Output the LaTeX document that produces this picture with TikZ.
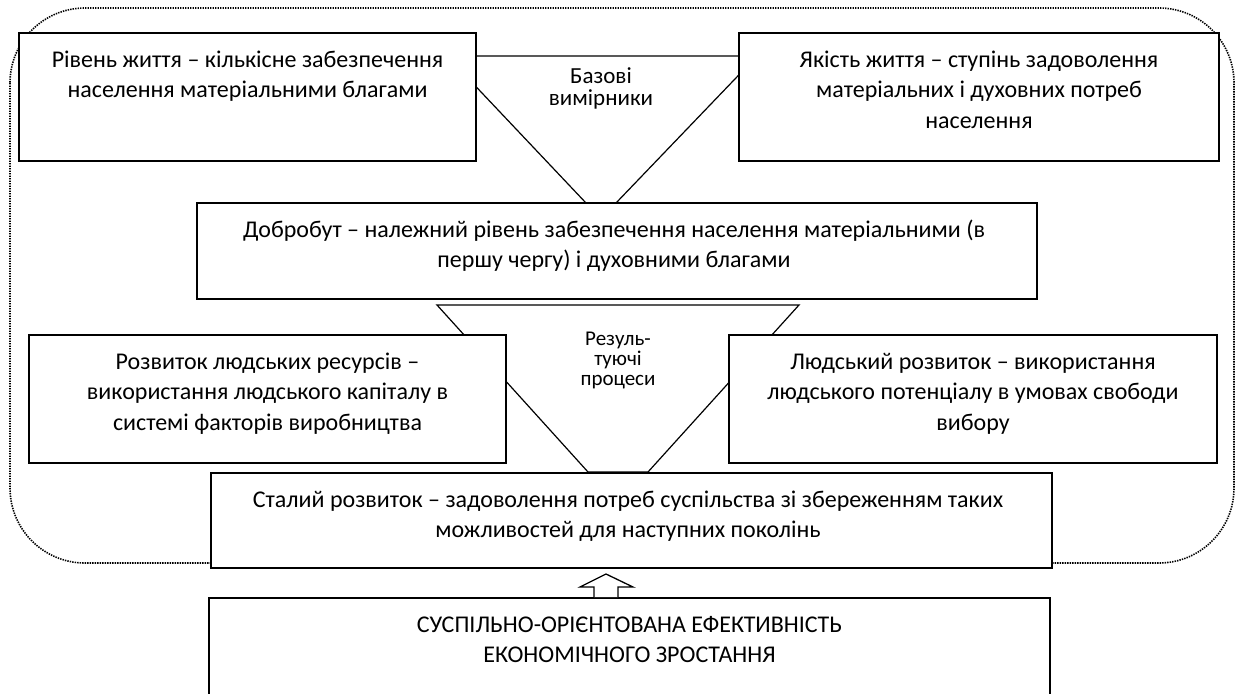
\documentclass[tikz,border=0pt]{standalone}
\usepackage{fontspec}
\setmainfont{Carlito}
\newcommand\tstrut{\rule{0pt}{20pt}}
\begin{document}
\begin{tikzpicture}[x=1pt,y=-1pt,
  box/.style={draw=black, line width=1.6pt, fill=white, inner sep=0pt, rectangle},
  txt/.style={inner sep=0pt, align=center, font=\fontsize{24}{30.5}\selectfont, anchor=north},
  lbl/.style={inner sep=0pt, align=center, anchor=north},
  tline/.style={draw=black, line width=1.2pt},
  dots/.style={draw=black, line width=1.6pt, dash pattern=on 1.4pt off 1.1pt},
  barrow/.style={draw=black, line width=1.3pt, fill=white}
]
\useasboundingbox (0,0) rectangle (1236,693);
\clip (0,0) rectangle (1236,693);

% dotted frame
\draw[dots, rounded corners=75pt] (10,8) rectangle (1234,563);

% trapezoids
\draw[tline] (447,56) -- (757,56) -- (616,203) -- (586,203) -- cycle;
\draw[tline] (437,305) -- (799,305) -- (648,472) -- (588,472) -- cycle;

% boxes
\node[box, minimum width=457pt, minimum height=128pt] (b1) at (247.5,97) {};
\node[box, minimum width=480pt, minimum height=128pt] (b2) at (979,97) {};
\node[box, minimum width=840pt, minimum height=96pt] (b3) at (617,251) {};
\node[box, minimum width=477pt, minimum height=128pt] (b4) at (267.5,399) {};
\node[box, minimum width=488pt, minimum height=128pt] (b5) at (973,399) {};
\node[box, minimum width=841pt, minimum height=95pt] (b6) at (631.5,520.5) {};
\node[box, minimum width=841pt, minimum height=140pt] (b7) at (629.5,668) {};

% texts
\node[txt] (t1) at (247.5,47) {\tstrut Рівень життя – кількісне забезпечення\\населення матеріальними благами};
\node[txt] (t2) at (979,47) {\tstrut Якість життя – ступінь задоволення\\матеріальних і духовних потреб\\населення};
\node[txt] (t3) at (614,217) {\tstrut Добробут – належний рівень забезпечення населення матеріальними (в\\першу чергу) і духовними благами};
\node[txt] (t4) at (267.5,349) {\tstrut Розвиток людських ресурсів –\\використання людського капіталу в\\системі факторів виробництва};
\node[txt] (t5) at (973,349) {\tstrut Людський розвиток – використання\\людського потенціалу в умовах свободи\\вибору};
\node[txt] (t6) at (628,487) {\tstrut Сталий розвиток – задоволення потреб суспільства зі збереженням таких\\можливостей для наступних поколінь};
\node[txt] (t7) at (629.5,612) {\tstrut СУСПІЛЬНО-ОРІЄНТОВАНА ЕФЕКТИВНІСТЬ\\ЕКОНОМІЧНОГО ЗРОСТАННЯ};

\node[lbl, font=\fontsize{23}{22}\selectfont] (base) at (601,63) {\tstrut Базові\\вимірники};
\node[lbl, font=\fontsize{21}{20}\selectfont] (res) at (618,327) {\rule{0pt}{18pt}Резуль-\\туючі\\процеси};

% block arrow
\draw[barrow] (b7.north -| 594,0) -- (594,587) -- (580,587) -- (606,574) -- (633,587) -- (618,587) -- (b7.north -| 618,0);
\end{tikzpicture}
\end{document}
